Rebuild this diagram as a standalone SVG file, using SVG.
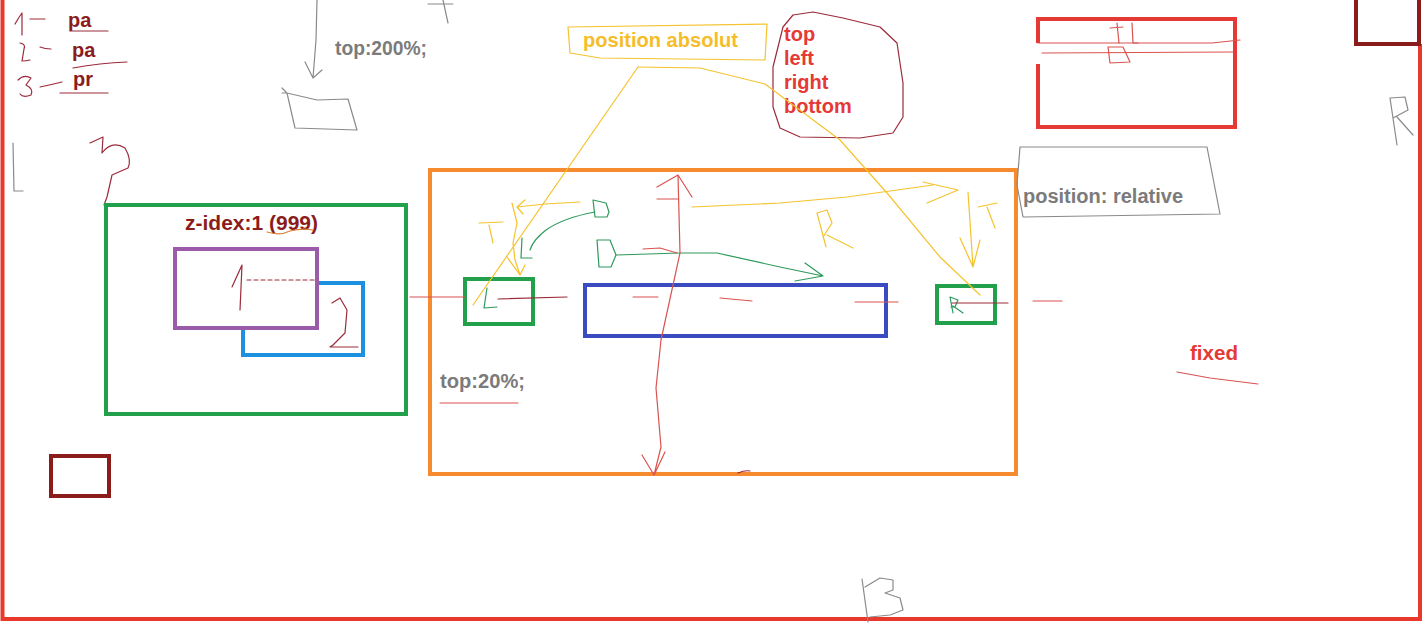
<svg xmlns="http://www.w3.org/2000/svg" width="1422" height="624" viewBox="0 0 1422 624">
<defs>
<style>
.t{font-family:"Liberation Sans",Arial,sans-serif;font-weight:bold;font-size:20px}
.gray{fill:#7b7b7b}.red{fill:#e53935}.dred{fill:#8b1c1c}.yel{fill:#f5bd2a}
.box{fill:none;stroke-width:4}
.ink{fill:none;stroke-width:1.2;stroke-linecap:round;stroke-linejoin:round}
.y{stroke:#f5c32e}.g{stroke:#2e9a5c}.r{stroke:#d9534f}.dr{stroke:#9b2a3a}.gr{stroke:#8a8a8a}
</style>
</defs>
<rect width="1422" height="624" fill="#ffffff"/>

<g id="frame">
<path d="M2.5,0 V619 H1420 V44" fill="none" stroke="#e8392c" stroke-width="4"/>
<rect x="1356" y="-4" width="63" height="48" class="box" stroke="#8b1c1c"/>
</g>

<g id="legend">
<text x="68" y="27" class="t dred" font-size="21">pa</text>
<text x="72" y="57" class="t dred" font-size="21">pa</text>
<text x="73" y="86" class="t dred" font-size="21">pr</text>
<path class="ink dr" d="M70,31 H108 M73,68 Q100,63 127,62 M60,93 H108"/>
<path class="ink dr" d="M15,24 Q19,17 22,13 L22,35 M30,19 H45 M20,43 Q26,44 24,49 L22,61 Q26,61 30,60 M40,47 Q45,49 51,49 M18,80 Q24,74 31,78 L26,85 Q34,89 31,95 Q23,98 20,94 M40,87 Q50,85 62,82"/>
</g>

<g id="top200">
<text x="335" y="55" class="t gray" font-size="19" textLength="92" lengthAdjust="spacingAndGlyphs">top:200%;</text>
<path class="ink gr" d="M317,0 L316,40 L313,78 M305,62 L313,78 L322,70"/>
<path class="ink gr" d="M282,88 L287,93 L317,100 L348,99 L357,130 L295,128 L287,93 M282,93 L287,93"/>
<path class="ink gr" d="M428,4 L453,4 M443,0 L448,23"/>
</g>

<g id="pos-absolut">
<path class="ink y" d="M568,27 L767,24 L765,60 L600,58 L570,53 Z"/>
<text x="583" y="47" class="t yel" textLength="155" lengthAdjust="spacingAndGlyphs">position absolut</text>
</g>

<g id="sides">
<path class="ink dr" d="M793,15 L813,12 L843,18 L880,27 L897,43 L903,83 L903,117 L893,133 L860,138 L800,137 L780,128 L773,107 L773,67 L783,27 Z"/>
<text x="784" y="41" class="t red" font-size="21">top</text>
<text x="784" y="65" class="t red" font-size="21">left</text>
<text x="784" y="89" class="t red" font-size="21">right</text>
<text x="784" y="113" class="t red" font-size="21">bottom</text>
</g>

<g id="fixed-box">
<path class="box" stroke="#e53935" d="M1038,43 V19 H1235 V127 H1038 V64"/>
<path class="ink r" d="M1038,43 L1212,43 L1240,40 M1042,53 L1233,52"/>
<path class="ink r" d="M1110,28 L1123,27 M1117,23 L1119,43 M1132,23 L1133,43 L1138,43 M1108,47 L1123,47 L1130,62 L1110,63 Z"/>
</g>

<g id="marks">
<path class="ink gr" d="M1390,98 L1397,145 M1390,98 L1405,97 L1408,110 L1393,118 M1397,117 L1413,135"/>
<path class="ink gr" d="M13,143 L14,191 L23,191"/>
<path class="ink dr" d="M90,143 L103,137 L102,153 Q112,140 125,148 Q132,160 128,168 L112,175 L107,197 L104,205"/>
<path class="ink gr" d="M862,579 L868,622 M865,587 L880,578 L893,580 L893,590 L885,593 L900,598 L903,610 L890,615 L870,617"/>
<rect x="51" y="456" width="58" height="40" class="box" stroke="#8b1c1c"/>
</g>

<g id="zindex">
<rect x="106" y="205" width="300" height="209" class="box" stroke="#22a04b"/>
<text x="185" y="230" class="t dred" textLength="133" lengthAdjust="spacingAndGlyphs">z-idex:1 (999)</text>
<path class="ink" stroke="#d9843a" d="M267,232 Q280,236 290,231 Q302,228 313,230"/>
<rect x="243" y="283" width="120" height="72" class="box" stroke="#1e90e0"/>
<rect x="175" y="249" width="142" height="79" fill="#ffffff" stroke="#9b5ba8" stroke-width="4"/>
<path class="ink dr" d="M232,287 L242,265 L240,310"/>
<path class="ink dr" stroke-dasharray="4 3" d="M247,280 L317,280"/>
<path class="ink dr" d="M332,303 L340,298 L347,310 L345,333 L333,345 L330,347 L358,347"/>
</g>

<g id="relative">
<rect x="430" y="170" width="586" height="304" class="box" stroke="#f58a2e"/>
<path class="ink gr" d="M1020,147 L1207,147 L1220,214 L1023,217 L1017,185 Z"/>
<text x="1023" y="203" class="t gray" textLength="160" lengthAdjust="spacingAndGlyphs">position: relative</text>
<text x="440" y="388" class="t gray" textLength="85" lengthAdjust="spacingAndGlyphs">top:20%;</text>
<path class="ink r" d="M440,403 L518,403"/>
</g>

<g id="boxL">
<rect x="465" y="279" width="68" height="45" class="box" stroke="#22a04b"/>
<path class="ink g" d="M487,288 L484,308 L497,307"/>
</g>
<g id="boxBar">
<rect x="585" y="285" width="301" height="51" class="box" stroke="#3b4cc0"/>
</g>
<g id="boxR">
<rect x="937" y="286" width="58" height="37" class="box" stroke="#22a04b"/>
<path class="ink g" d="M950,297 L953,313 M950,297 L958,300 L955,307 L951,307 M953,306 L963,313"/>
</g>

<g id="fixed-label">
<text x="1190" y="360" class="t red" textLength="48" lengthAdjust="spacingAndGlyphs">fixed</text>
<path class="ink r" d="M1177,372 L1210,378 L1258,384"/>
</g>

<g id="connectors">
<path class="ink y" d="M638,67 L473,305"/>
<path class="ink y" d="M638,67 L700,68 L765,84 L840,140 L887,193 L940,257 L980,295"/>
<path class="ink y" d="M580,202 L545,204 L517,207 M525,200 L517,207 L523,214"/>
<path class="ink y" d="M512,203 L517,223 L513,243 L515,260 L520,275 M507,257 L520,275 L525,265"/>
<path class="ink y" d="M479,223 L503,222 M489,225 L493,243"/>
<path class="ink y" d="M692,207 L780,203 L847,197 L933,185 M923,182 L958,190 L927,203"/>
<path class="ink y" d="M817,213 L826,247 M817,213 L827,210 L832,223 L823,237 M827,235 L853,248"/>
<path class="ink y" d="M968,192 L973,267 M960,238 L973,267 L980,240"/>
<path class="ink y" d="M978,207 L997,203 M987,207 L995,228"/>
<path class="ink g" d="M593,200 L595,217 M593,200 L606,203 L609,212 L607,217 L595,217"/>
<path class="ink g" d="M595,212 Q563,218 546,230 Q533,240 530,250 M522,238 L521,258 L532,258"/>
<path class="ink g" d="M597,240 L599,267 M597,240 L610,240 L616,255 L611,267 L599,267"/>
<path class="ink g" d="M616,255 L680,253 L717,253 L780,267 L823,276 M805,263 L823,276 L795,281"/>
<path class="ink r" d="M678,175 L680,253 L661,340 L656,388 L661,447 L654,475 M657,187 L678,175 L692,197 M642,455 L654,475 L665,452"/>
<path class="ink r" d="M657,199 L678,199 M643,249 L660,248 L677,253"/>
<path class="ink r" d="M410,297 L465,297 M633,297 L658,297 M720,298 L752,301 M855,302 L898,302 M1033,301 L1062,301"/>
<path class="ink dr" d="M498,299 L567,297 M952,303 L1008,303 M738,473 Q745,470 750,471"/>
</g>
</svg>
